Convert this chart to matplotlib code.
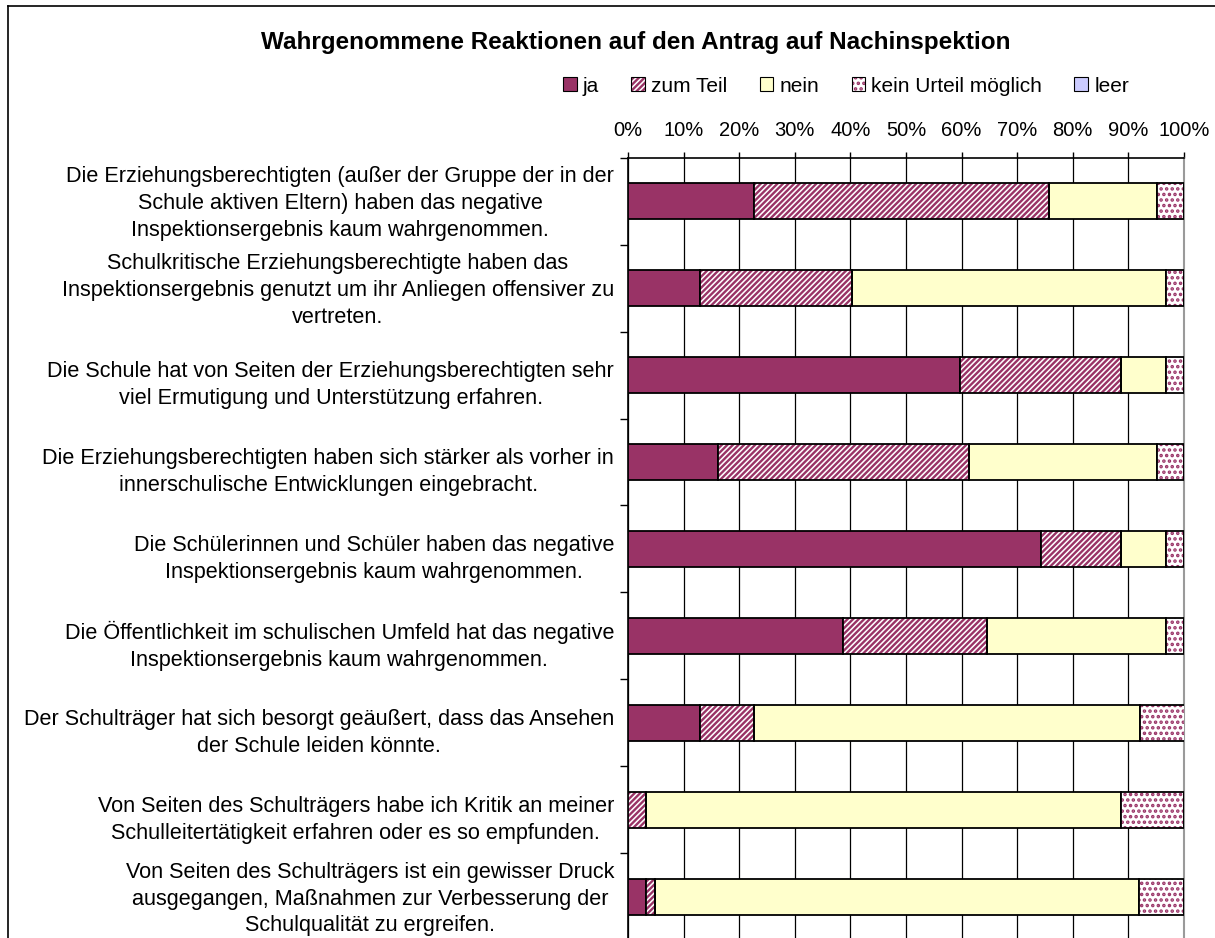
import matplotlib
matplotlib.use("Agg")
import matplotlib.pyplot as plt
from matplotlib.patches import Patch
from matplotlib.legend_handler import HandlerTuple
from matplotlib.lines import Line2D
from matplotlib.transforms import ScaledTranslation
import numpy as np

plt.rcParams['font.family'] = ['Liberation Sans', 'DejaVu Sans']
plt.rcParams['hatch.linewidth'] = 1.7

title = "Wahrgenommene Reaktionen auf den Antrag auf Nachinspektion"
categories = [
    "Die Erziehungsberechtigten (außer der Gruppe der in der\nSchule aktiven Eltern) haben das negative\nInspektionsergebnis kaum wahrgenommen.",
    "Schulkritische Erziehungsberechtigte haben das\nInspektionsergebnis genutzt um ihr Anliegen offensiver zu\nvertreten.",
    "Die Schule hat von Seiten der Erziehungsberechtigten sehr\nviel Ermutigung und Unterstützung erfahren.",
    "Die Erziehungsberechtigten haben sich stärker als vorher in\ninnerschulische Entwicklungen eingebracht.",
    "Die Schülerinnen und Schüler haben das negative\nInspektionsergebnis kaum wahrgenommen.",
    "Die Öffentlichkeit im schulischen Umfeld hat das negative\nInspektionsergebnis kaum wahrgenommen.",
    "Der Schulträger hat sich besorgt geäußert, dass das Ansehen\nder Schule leiden könnte.",
    "Von Seiten des Schulträgers habe ich Kritik an meiner\nSchulleitertätigkeit erfahren oder es so empfunden.",
    "Von Seiten des Schulträgers ist ein gewisser Druck\nausgegangen, Maßnahmen zur Verbesserung der\nSchulqualität zu ergreifen.",
]
series_names = ["ja", "zum Teil", "nein", "kein Urteil möglich", "leer"]
ja = [22.6, 12.9, 59.7, 16.1, 74.2, 38.7, 12.9, 0.0, 3.2]
zum_teil = [53.2, 27.4, 29.0, 45.2, 14.5, 25.8, 9.7, 3.2, 1.6]
nein = [19.4, 56.5, 8.1, 33.9, 8.1, 32.3, 69.4, 85.5, 87.1]
kein_urteil = [4.8, 3.2, 3.2, 4.8, 3.2, 3.2, 8.1, 11.3, 8.1]
leer = [0, 0, 0, 0, 0, 0, 0, 0, 0]
xtick_labels = ["0%", "10%", "20%", "30%", "40%", "50%", "60%", "70%", "80%", "90%", "100%"]

purple = "#993366"
styles = [
    dict(face=purple, hatch=None, hcol=None),
    dict(face="white", hatch="//////", hcol=purple),
    dict(face="#FFFFCC", hatch=None, hcol=None),
    dict(face="white", hatch="...", hcol=purple),
    dict(face="#CCCCFF", hatch=None, hcol=None),
]

W, H = 1215, 938
fig = plt.figure(figsize=(W / 100, H / 100), dpi=100)
ax = fig.add_axes([628 / W, (H - 940.2) / H, 556 / W, 782.5 / H])

y = np.arange(len(categories))
bh = 0.41
left = np.zeros(len(categories))
handles = []
for vals, st, name in zip([ja, zum_teil, nein, kein_urteil, leer], styles, series_names):
    vals = np.asarray(vals, dtype=float)
    if st["hatch"]:
        ax.barh(y, vals, left=left, height=bh, color=st["face"], edgecolor=st["hcol"],
                hatch=st["hatch"], linewidth=0, zorder=3)
        ax.barh(y, vals, left=left, height=bh, color="none", edgecolor="black",
                linewidth=1.3, zorder=4)
        h = (Patch(facecolor=st["face"], edgecolor=st["hcol"], hatch=st["hatch"], linewidth=0),
             Patch(facecolor="none", edgecolor="black", linewidth=0.8))
    else:
        ax.barh(y, vals, left=left, height=bh, color=st["face"], edgecolor="black",
                linewidth=1.3, zorder=3)
        h = Patch(facecolor=st["face"], edgecolor="black", linewidth=0.8)
    handles.append(h)
    left += vals

ax.set_xlim(0, 100)
ax.set_ylim(len(categories) - 0.5, -0.5)

# x axis on top
ax.xaxis.tick_top()
ax.set_xticks(np.linspace(0, 100, len(xtick_labels)))
ax.set_xticklabels(xtick_labels, fontsize=14.5)
ax.tick_params(axis="x", direction="out", length=4, width=1, pad=8.5, top=True, bottom=False)
ax.grid(axis="x", color="black", linewidth=0.9, zorder=0)
ax.set_axisbelow(True)

# y ticks at category boundaries, labels at centres
ax.set_yticks(np.arange(len(categories) + 1) - 0.5)
ax.set_yticklabels([])
ax.tick_params(axis="y", which="major", direction="out", length=6, width=1)
ax.set_yticks(y, minor=True)
ax.set_yticklabels(categories, minor=True, fontsize=15.6, multialignment="center",
                   linespacing=1.36)
ax.tick_params(axis="y", which="minor", length=0, pad=10)
for lab, txt in zip(ax.get_yticklabels(minor=True), categories):
    dy = -4.5 if txt.count("\n") == 1 else 3
    lab.set_transform(lab.get_transform() + ScaledTranslation(0, dy / 100, fig.dpi_scale_trans))

for side in ["left", "top"]:
    ax.spines[side].set_color("black")
    ax.spines[side].set_linewidth(1.2)
ax.spines["right"].set_color("#9a9a9a")
ax.spines["right"].set_linewidth(1.5)
ax.spines["bottom"].set_visible(False)

fig.text(636 / W, 1 - 42 / H, title, ha="center", va="center", fontsize=17.5, fontweight="bold")

fig.legend(handles, series_names, loc="center", bbox_to_anchor=(846 / W, 1 - 86 / H),
           ncol=5, frameon=False, fontsize=15, handlelength=0.65, handleheight=0.65,
           handletextpad=0.3, columnspacing=1.55,
           handler_map={tuple: HandlerTuple(ndivide=1, pad=0)})

# figure border (left and top visible)
fig.add_artist(Line2D([7.5 / W, 7.5 / W], [0, 1 - 6 / H], color="black", linewidth=1.2))
fig.add_artist(Line2D([7.5 / W, 1], [1 - 6 / H, 1 - 6 / H], color="black", linewidth=1.2))

fig.savefig("out.png", dpi=100)
